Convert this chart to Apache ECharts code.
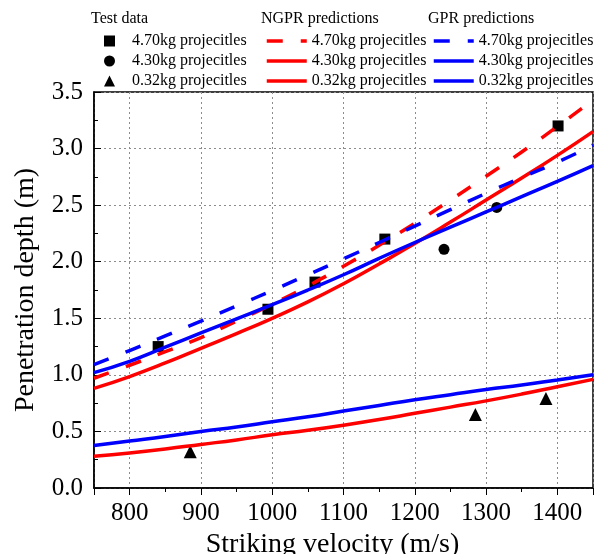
<!DOCTYPE html>
<html>
<head>
<meta charset="utf-8">
<script src="https://cdn.jsdelivr.net/npm/echarts@6/dist/echarts.min.js"></script>
<style>html,body{margin:0;padding:0;background:#fff}#c{width:597px;height:554px}</style>
</head>
<body>
<div id="c"></div>
<script>
// ---- data ----
const velocity = [750, 800, 850, 900, 950, 1000, 1050, 1100, 1150, 1200, 1250, 1300, 1350, 1400, 1450];
const ngpr470 = [0.97, 1.085, 1.205, 1.33, 1.475, 1.625, 1.785, 1.96, 2.145, 2.34, 2.545, 2.755, 2.97, 3.195, 3.43];
const ngpr430 = [0.88, 0.985, 1.105, 1.235, 1.365, 1.50, 1.645, 1.805, 1.98, 2.16, 2.35, 2.545, 2.74, 2.94, 3.15];
const ngpr032 = [0.28, 0.31, 0.345, 0.385, 0.425, 0.47, 0.51, 0.555, 0.605, 0.66, 0.715, 0.77, 0.83, 0.895, 0.96];
const gpr470 = [1.09, 1.215, 1.345, 1.475, 1.61, 1.745, 1.885, 2.025, 2.17, 2.315, 2.46, 2.605, 2.745, 2.88, 3.03];
const gpr430 = [1.02, 1.12, 1.245, 1.37, 1.495, 1.62, 1.75, 1.885, 2.03, 2.17, 2.305, 2.44, 2.575, 2.71, 2.85];
const gpr032 = [0.375, 0.415, 0.455, 0.50, 0.54, 0.585, 0.63, 0.68, 0.73, 0.78, 0.825, 0.87, 0.91, 0.955, 1.0];

const test470V = [840, 994, 1060, 1158, 1401];
const test470D = [1.25, 1.58, 1.82, 2.20, 3.20];
const test430V = [1241, 1315];
const test430D = [2.11, 2.48];
const test032V = [885, 1285, 1384];
const test032D = [0.32, 0.65, 0.79];

const groupTitles = ['Test data', 'NGPR predictions', 'GPR predictions'];
const massLabels = ['4.70kg projecitles', '4.30kg projecitles', '0.32kg projecitles'];
const xName = 'Striking velocity (m/s)';
const yName = 'Penetration depth (m)';

// ---- build ----
const FONT = 'Liberation Serif';
const zip = (a, b) => a.map((v, i) => [v, b[i]]);
const RED = '#ff0000', BLUE = '#0000ff';
const DASH = [16, 18];

function lineSeries(name, vals, color, dashed) {
  return {
    name: name, type: 'line', data: zip(velocity, vals), smooth: true,
    symbol: 'none', showSymbol: false,
    lineStyle: { color: color, width: 3.5, type: dashed ? DASH : 'solid' },
    itemStyle: { color: color }, z: 3, silent: true, animation: false
  };
}
function scatterSeries(name, xs, ys, symbol, size) {
  return {
    name: name, type: 'scatter', data: zip(xs, ys), symbol: symbol, symbolSize: size,
    itemStyle: { color: '#000', opacity: 1 }, z: 2, silent: true, animation: false
  };
}

const T = 'Test data: ', N = 'NGPR: ', G = 'GPR: ';
const series = [
  scatterSeries(T + massLabels[0], test470V, test470D, 'rect', 11),
  scatterSeries(T + massLabels[1], test430V, test430D, 'circle', 11),
  scatterSeries(T + massLabels[2], test032V, test032D, 'triangle', 13),
  lineSeries(N + massLabels[0], ngpr470, RED, true),
  lineSeries(N + massLabels[1], ngpr430, RED, false),
  lineSeries(N + massLabels[2], ngpr032, RED, false),
  lineSeries(G + massLabels[0], gpr470, BLUE, true),
  lineSeries(G + massLabels[1], gpr430, BLUE, false),
  lineSeries(G + massLabels[2], gpr032, BLUE, false)
];

const fmt = n => n.replace(/^[^:]*: /, '');
function legend(left, names, itemWidth, itemHeight, icons, textPad) {
  const l = {
    orient: 'vertical', left: left, top: 33, itemGap: 4, itemWidth: itemWidth, itemHeight: itemHeight,
    selectedMode: false, formatter: fmt, padding: 0,
    textStyle: { fontFamily: FONT, fontSize: 16, color: '#000', padding: [0, 0, 0, textPad] },
    data: names.map((n, i) => icons ? { name: n, icon: icons[i] } : n)
  };
  if (!icons) {
    l.itemStyle = { opacity: 0 };
    l.lineStyle = { width: 3.5, type: 'inherit' };
  } else {
    l.itemStyle = { opacity: 1 };
  }
  return l;
}
const titleStyle = { fontFamily: FONT, fontSize: 16, color: '#000', fontWeight: 'normal' };

const option = {
  animation: false,
  backgroundColor: '#fff',
  title: [
    { text: groupTitles[0], left: 91, top: 11, padding: 0, textStyle: titleStyle },
    { text: groupTitles[1], left: 261, top: 11, padding: 0, textStyle: titleStyle },
    { text: groupTitles[2], left: 428, top: 11, padding: 0, textStyle: titleStyle }
  ],
  legend: [
    legend(104, massLabels.map(m => T + m), 11, 11, ['rect', 'circle', 'triangle'], 12),
    legend(265, massLabels.map(m => N + m), 40, 11, null, 0),
    legend(432, massLabels.map(m => G + m), 40, 11, null, 0)
  ],
  grid: {
    left: 94, right: 4, top: 92, bottom: 66, outerBoundsMode: 'none', containLabel: false,
    show: true, borderColor: '#000', borderWidth: 1.5, backgroundColor: 'transparent'
  },
  xAxis: [
    {
      type: 'value', min: 750, max: 1450, interval: 50, position: 'bottom',
      name: xName, nameLocation: 'middle', nameGap: 36,
      nameTextStyle: { fontFamily: FONT, fontSize: 28, color: '#000', padding: [0, 22, 0, 0] },
      axisLine: { show: true, lineStyle: { color: '#000', width: 1.5 } },
      axisTick: { show: true, length: 4, lineStyle: { color: '#000', width: 1 } },
      axisLabel: { fontFamily: FONT, fontSize: 25, color: '#000', margin: 13, formatter: v => (v % 100 === 0 ? String(v) : '') },
      splitLine: { show: false }
    },
    {
      type: 'value', min: 750, max: 1450, splitNumber: 7, position: 'bottom',
      axisLine: { show: false },
      axisTick: { show: true, length: 7, lineStyle: { color: '#000', width: 1 } },
      axisLabel: { show: false },
      splitLine: { show: true, lineStyle: { color: '#8c8c8c', width: 1, type: [2, 3] } }
    }
  ],
  yAxis: {
    type: 'value', min: 0, max: 3.5, interval: 0.5,
    name: yName, nameLocation: 'middle', nameGap: 54,
    nameTextStyle: { fontFamily: FONT, fontSize: 28, color: '#000' },
    axisLine: { show: true, lineStyle: { color: '#000', width: 1.5 } },
    axisTick: { show: true, inside: true, length: 7, lineStyle: { color: '#000', width: 1 } },
    minorTick: { show: true, splitNumber: 2, length: 4, lineStyle: { color: '#000', width: 1 } },
    axisLabel: { fontFamily: FONT, fontSize: 25, color: '#000', margin: 11, formatter: v => v.toFixed(1) },
    splitLine: { show: true, lineStyle: { color: '#8c8c8c', width: 1, type: [2, 3] } }
  },
  series: series
};

const chart = echarts.init(document.getElementById('c'), null, { renderer: 'canvas' });
chart.setOption(option);
</script>
</body>
</html>
